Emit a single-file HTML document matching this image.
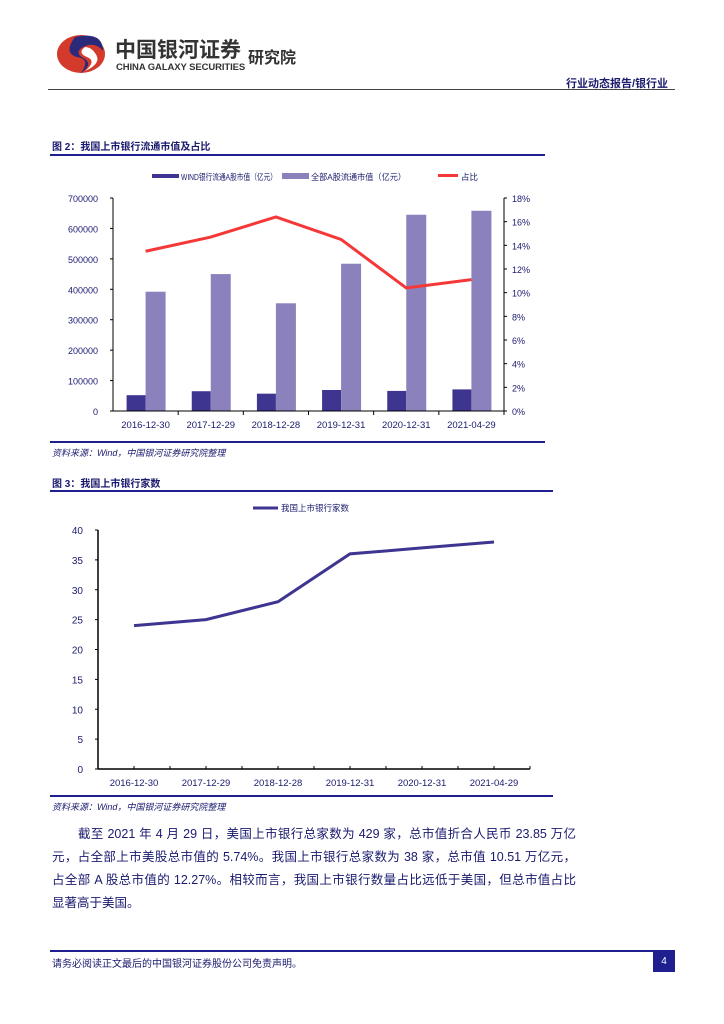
<!DOCTYPE html>
<html><head><meta charset="utf-8"><style>
body{margin:0;background:#fff;width:724px;height:1024px;position:relative;overflow:hidden;font-family:"Liberation Sans","Noto Sans CJK SC",sans-serif}
.a{position:absolute}
.ln{text-align:justify;text-align-last:justify;white-space:nowrap;height:23px}
</style></head><body>
<div class="a" style="left:0;top:0;width:724px;height:95px">
<svg class="a" style="left:55px;top:33px" width="52" height="42">
<ellipse cx="26" cy="21" rx="24" ry="19" fill="#d33a2c"/>
<path d="M20 4 Q48 -2 48 18 Q40 8 28 14 Q18 20 30 26 Q38 32 26 40 Q36 26 22 24 Q8 20 20 4Z" fill="#2b2a7a"/>
<path d="M30 14 Q22 20 32 24 Q42 28 30 38 Q48 30 40 20 Q36 14 30 14Z" fill="#fff"/>
</svg>
<div class="a" style="left:115px;top:34px;font-size:21px;font-weight:bold;color:#333;letter-spacing:0">中国银河证券</div>
<div class="a" style="left:116px;top:62px;font-size:9.5px;font-weight:bold;color:#333;letter-spacing:-0.1px">CHINA GALAXY SECURITIES</div>
<div class="a" style="left:248px;top:44px;font-size:16px;font-weight:bold;color:#333">研究院</div>
<div class="a" style="left:566px;top:75px;font-size:11px;font-weight:bold;color:#1a1a6e">行业动态报告/银行业</div>
<div class="a" style="left:48px;top:89px;width:627px;height:1px;background:#444"></div>
</div>

<div class="a" style="left:52px;top:138px;font-size:10px;font-weight:bold;color:#1a1a6e">图 2：我国上市银行流通市值及占比</div>
<div class="a" style="left:50px;top:154px;width:495px;height:2px;background:#1f1f8f"></div>
<svg class="a" style="left:0;top:160px" width="724" height="290" id="c1"></svg>
<div class="a" style="left:50px;top:441px;width:495px;height:2px;background:#1f1f8f"></div>
<div class="a" style="left:52px;top:446px;font-size:9px;font-style:italic;color:#1a1a6e">资料来源：Wind，中国银河证券研究院整理</div>

<div class="a" style="left:52px;top:475px;font-size:10px;font-weight:bold;color:#1a1a6e">图 3：我国上市银行家数</div>
<div class="a" style="left:50px;top:490px;width:503px;height:2px;background:#1f1f8f"></div>
<svg class="a" style="left:0;top:492px" width="724" height="305" id="c2"></svg>
<div class="a" style="left:50px;top:795px;width:503px;height:2px;background:#1f1f8f"></div>
<div class="a" style="left:52px;top:800px;font-size:9px;font-style:italic;color:#1a1a6e">资料来源：Wind，中国银河证券研究院整理</div>

<div class="a" style="left:52px;top:823px;width:524px;font-size:12.5px;line-height:23px;color:#1a1a6e">
<div class="ln" style="padding-left:26px">截至 2021 年 4 月 29 日，美国上市银行总家数为 429 家，总市值折合人民币 23.85 万亿</div>
<div class="ln">元，占全部上市美股总市值的 5.74%。我国上市银行总家数为 38 家，总市值 10.51 万亿元，</div>
<div class="ln">占全部 A 股总市值的 12.27%。相较而言，我国上市银行数量占比远低于美国，但总市值占比</div>
<div style="height:23px">显著高于美国。</div>
</div>

<div class="a" style="left:50px;top:950px;width:625px;height:2px;background:#1f1f8f"></div>
<div class="a" style="left:52px;top:955px;font-size:10px;color:#1a1a6e">请务必阅读正文最后的中国银河证券股份公司免责声明。</div>
<div class="a" style="left:653px;top:952px;width:22px;height:20px;background:#1f1f8f;color:#fff;font-size:10px;text-align:center;line-height:20px">4</div>

<script>
const cats=["2016-12-30","2017-12-29","2018-12-28","2019-12-31","2020-12-31","2021-04-29"];
const bankCap=[52000,65000,57000,69000,66000,71000];
const allCap=[392000,450000,354000,484000,645000,658000];
const ratio=[13.5,14.7,16.4,14.5,10.4,11.1];
const leftTicks=[0,100000,200000,300000,400000,500000,600000,700000];
const rightTicks=[0,2,4,6,8,10,12,14,16,18];
const bankCount=[24,25,28,36,37,38];
const countTicks=[0,5,10,15,20,25,30,35,40];
const NS="http://www.w3.org/2000/svg";
function mk(svg,t,at,txt){const e=document.createElementNS(NS,t);for(const k in at)e.setAttribute(k,at[k]);if(txt!==undefined)e.textContent=txt;svg.appendChild(e);return e;}
const C="#1a1a6e";
(function(){
const s=document.getElementById('c1');
const x0=113,x1=504,yb=251,yt=38;
const band=(x1-x0)/cats.length;
const cx=i=>x0+band*(i+0.5);
const yL=v=>yb-(v/700000)*(yb-yt);
const yR=v=>yb-(v/18)*(yb-yt);
let r=mk(s,'rect',{x:152,y:14,width:27,height:4,fill:'#3d3590'});
mk(s,'text',{x:181,y:20,'font-size':8.5,fill:C,textLength:96,lengthAdjust:'spacingAndGlyphs'},'WIND银行流通A股市值（亿元）');
r=mk(s,'rect',{x:282,y:13,width:27,height:6,fill:'#8b82bd'});
mk(s,'text',{x:311,y:20,'font-size':8.5,fill:C,textLength:95,lengthAdjust:'spacingAndGlyphs'},'全部A股流通市值（亿元）');
r=mk(s,'rect',{x:438,y:14,width:20,height:3,fill:'#f53737'});
mk(s,'text',{x:461,y:20,'font-size':8.5,fill:C},'占比');
leftTicks.forEach(v=>{const y=yL(v);mk(s,'line',{x1:x0-3,x2:x0,y1:y,y2:y,stroke:'#000'});mk(s,'text',{x:98,y:y+4,'font-size':9,fill:C,'text-anchor':'end'},String(v));});
rightTicks.forEach(v=>{const y=yR(v);mk(s,'line',{x1:x1,x2:x1+3,y1:y,y2:y,stroke:'#000'});mk(s,'text',{x:512,y:y+4,'font-size':9,fill:C},v+'%');});
cats.forEach((c,i)=>{
 let b=mk(s,'rect',{x:cx(i)-19,y:yL(bankCap[i]),width:19,height:yb-yL(bankCap[i]),fill:'#3d3590'});
 
 b=mk(s,'rect',{x:cx(i),y:yL(allCap[i]),width:20,height:yb-yL(allCap[i]),fill:'#8b82bd'});
 
 mk(s,'text',{x:cx(i),y:yb+17,'font-size':9.5,fill:C,'text-anchor':'middle'},c);
 mk(s,'line',{x1:x0+band*(i+1),x2:x0+band*(i+1),y1:yb,y2:yb+4,stroke:'#000'});
});
mk(s,'line',{x1:x0,x2:x0,y1:yt,y2:yb,stroke:'#000'});
mk(s,'line',{x1:x1,x2:x1,y1:yt,y2:yb,stroke:'#000'});
mk(s,'line',{x1:x0,x2:x1,y1:yb,y2:yb,stroke:'#000'});
const p=mk(s,'polyline',{points:ratio.map((v,i)=>cx(i)+','+yR(v)).join(' '),fill:'none',stroke:'#f53737','stroke-width':3});

})();
(function(){
const s=document.getElementById('c2');
const x0=98,x1=530,yb=277,yt=38;
const band=(x1-x0)/cats.length;
const cx=i=>x0+band*(i+0.5);
const y=v=>yb-(v/40)*(yb-yt);
const l=mk(s,'line',{x1:253,x2:278,y1:16,y2:16,stroke:'#3d3590','stroke-width':3});

mk(s,'text',{x:281,y:19,'font-size':8.5,fill:C},'我国上市银行家数');
countTicks.forEach(v=>{const yy=y(v);mk(s,'line',{x1:x0-3,x2:x0,y1:yy,y2:yy,stroke:'#000'});mk(s,'text',{x:83,y:yy+4,'font-size':10,fill:C,'text-anchor':'end'},String(v));});
cats.forEach((c,i)=>{mk(s,'text',{x:cx(i),y:yb+17,'font-size':9.5,fill:C,'text-anchor':'middle'},c);});
for(let i=0;i<=cats.length*2;i++){const xx=x0+band*i/2;mk(s,'line',{x1:xx,x2:xx,y1:yb-3,y2:yb,stroke:'#000'});}
mk(s,'line',{x1:x0,x2:x0,y1:yt,y2:yb,stroke:'#000','stroke-width':1.5});
mk(s,'line',{x1:x0,x2:x1,y1:yb,y2:yb,stroke:'#000','stroke-width':1.5});
const p=mk(s,'polyline',{points:bankCount.map((v,i)=>cx(i)+','+y(v)).join(' '),fill:'none',stroke:'#3d3590','stroke-width':3});

})();
</script>
</body></html>
